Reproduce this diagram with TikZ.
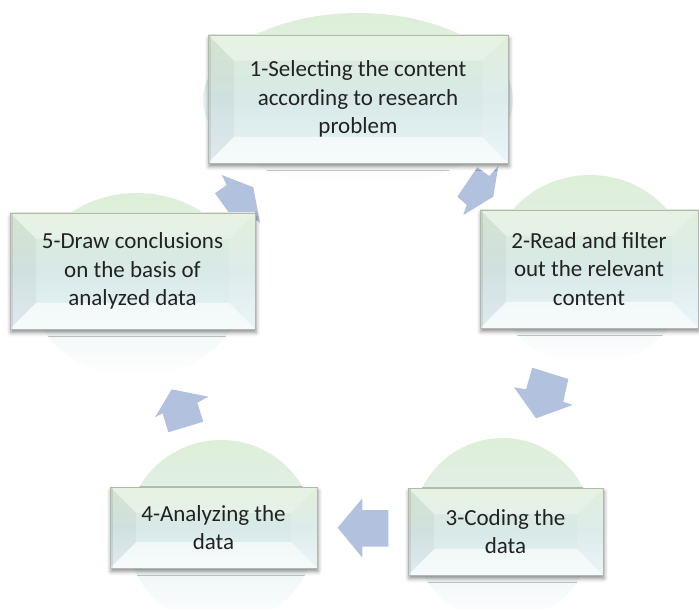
\documentclass[tikz,border=0pt]{standalone}
\usepackage{fontspec}
\setmainfont{Carlito}
\usetikzlibrary{shapes.geometric,shadows.blur}

\definecolor{arrowblue}{RGB}{178,193,222}
\definecolor{discgreen}{RGB}{221,239,215}
\definecolor{discblue}{RGB}{229,240,242}
\definecolor{paneltop}{RGB}{220,237,214}
\definecolor{panelmid}{RGB}{216,233,232}
\definecolor{panelbot}{RGB}{232,243,248}
\definecolor{panelrule}{RGB}{176,184,176}
\definecolor{inktext}{RGB}{34,34,34}

% bevel facets painted inside each panel
\newcommand\bevelfacets{%
  \fill[white, fill opacity=0.32]
    (path picture bounding box.north west) -- (path picture bounding box.north east)
    -- ([xshift=-26pt,yshift=-26pt]path picture bounding box.north east)
    -- ([xshift=26pt,yshift=-26pt]path picture bounding box.north west) -- cycle;
  \fill[white, fill opacity=0.62]
    (path picture bounding box.south west) -- (path picture bounding box.south east)
    -- ([xshift=-26pt,yshift=26pt]path picture bounding box.south east)
    -- ([xshift=26pt,yshift=26pt]path picture bounding box.south west) -- cycle;
  \fill[black, fill opacity=0.035]
    (path picture bounding box.north west)
    -- ([xshift=26pt,yshift=-26pt]path picture bounding box.north west)
    -- ([xshift=26pt,yshift=26pt]path picture bounding box.south west)
    -- (path picture bounding box.south west) -- cycle;
  \fill[white, fill opacity=0.15]
    (path picture bounding box.north east)
    -- ([xshift=-26pt,yshift=-26pt]path picture bounding box.north east)
    -- ([xshift=-26pt,yshift=26pt]path picture bounding box.south east)
    -- (path picture bounding box.south east) -- cycle;
  \fill[black, fill opacity=0.08]
    (path picture bounding box.north west) rectangle
    ([xshift=3pt]path picture bounding box.south west);
}

\tikzset{
  disc/.style={ellipse, draw=none, inner sep=0pt,
    top color=discgreen, bottom color=white, middle color=discblue},
  flow/.style={fill=arrowblue, draw=none},
  panel/.style={rectangle, draw=panelrule, line width=0.5pt, inner sep=0pt,
    top color=paneltop, bottom color=panelbot, middle color=panelmid,
    align=center, text=inktext, font=\fontsize{23}{28.3}\selectfont,
    blur shadow={shadow xshift=1pt, shadow yshift=-3.5pt,
      shadow blur radius=4pt, shadow opacity=45},
    path picture={\bevelfacets}}
}

\begin{document}
\begin{tikzpicture}[x=1pt, y=-1pt]
\useasboundingbox (0,0) rectangle (699,609);

% soft discs behind the steps
\node[disc, minimum width=310pt, minimum height=174pt] (d1) at (358,100) {};
\node[disc, minimum width=200pt, minimum height=190pt] (d2) at (590,270) {};
\node[disc, minimum width=181pt, minimum height=184pt] (d3) at (502.5,530) {};
\node[disc, minimum width=188pt, minimum height=186pt] (d4) at (221,533) {};
\node[disc, minimum width=214pt, minimum height=184pt] (d5) at (137,285) {};

% block arrows of the cycle
\fill[flow] (477.3,167.3) -- (489.3,176) -- (498.3,166) -- (493.3,196.7)
  -- (463.3,215) -- (466.7,205) -- (457.3,196.7) -- cycle;
\fill[flow] (532.3,367.7) -- (568.3,379) -- (563.3,401.7) -- (572.7,405)
  -- (536,418.3) -- (514,387.3) -- (526,389.3) -- cycle;
\fill[flow] (337.7,527.7) -- (362.3,498.3) -- (362.3,510) -- (388.3,510)
  -- (388.3,546.7) -- (362.3,546.7) -- (362.3,557.7) -- cycle;
\fill[flow] (171.7,389.3) -- (208.3,396.7) -- (197.3,402.7) -- (203.3,421.7)
  -- (168.3,432.3) -- (162.7,413.3) -- (155,417.3) -- cycle;
\fill[flow] (253.3,187.3) -- (260,222.7) -- (248,214.7) -- (236.3,223)
  -- (215,193.3) -- (226.7,185) -- (221.7,175) -- cycle;

% steps
\node[panel, minimum width=300pt, minimum height=128pt] (s1) at (358,99)
  {1-Selecting the content\\according to research\\problem};
\node[panel, minimum width=218pt, minimum height=118pt] (s2) at (589,269)
  {2-Read and filter\\out the relevant\\content};
\node[panel, minimum width=195pt, minimum height=87pt] (s3) at (505.5,531.5)
  {3-Coding the\\data};
\node[panel, minimum width=207pt, minimum height=81pt] (s4) at (213.5,527.5)
  {4-Analyzing the\\data};
\node[panel, minimum width=245pt, minimum height=116pt] (s5) at (132.5,271)
  {5-Draw conclusions\\on the basis of\\analyzed data};
\end{tikzpicture}
\end{document}
